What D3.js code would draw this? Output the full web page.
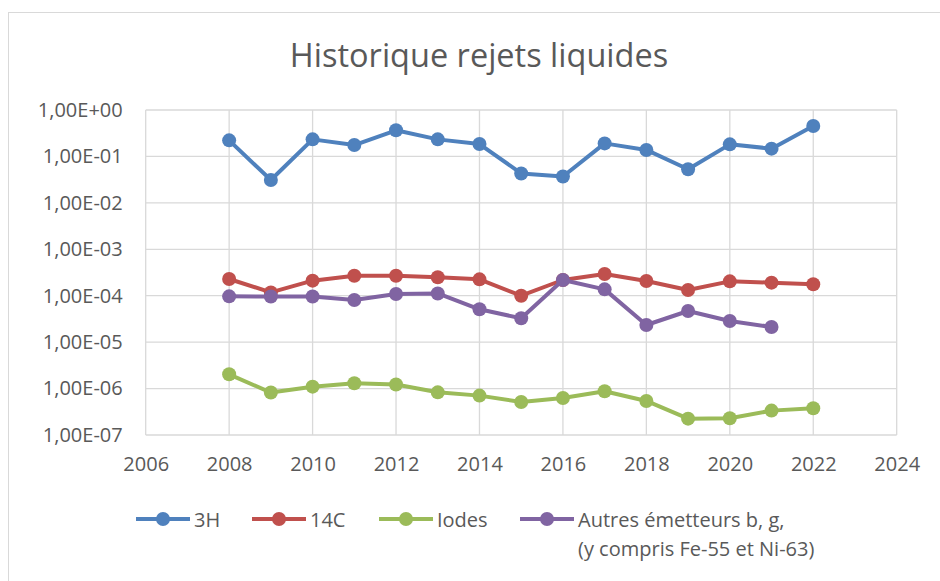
<!DOCTYPE html>
<html>
<head>
<meta charset="utf-8">
<script src="https://cdn.jsdelivr.net/npm/d3@7"></script>
<style>
  body { margin: 0; background: #fff; }
  svg text { font-family: "Open Sans", sans-serif; fill: #595959; }
</style>
</head>
<body>
<svg id="chart"></svg>
<script>
// Data
var years = [2008, 2009, 2010, 2011, 2012, 2013, 2014, 2015, 2016, 2017, 2018, 2019, 2020, 2021, 2022];
var h3 = [0.222, 0.031, 0.233, 0.176, 0.365, 0.233, 0.185, 0.043, 0.037, 0.191, 0.138, 0.053, 0.182, 0.147, 0.452];
var c14 = [2.29e-4, 1.18e-4, 2.11e-4, 2.70e-4, 2.70e-4, 2.49e-4, 2.25e-4, 1.0e-4, 2.18e-4, 2.94e-4, 2.07e-4, 1.33e-4, 2.04e-4, 1.91e-4, 1.76e-4];
var iodes = [2.03e-6, 8.2e-7, 1.10e-6, 1.30e-6, 1.22e-6, 8.3e-7, 7.05e-7, 5.15e-7, 6.28e-7, 8.73e-7, 5.41e-7, 2.25e-7, 2.29e-7, 3.35e-7, 3.76e-7];
var autres = [9.7e-5, 9.6e-5, 9.6e-5, 8.1e-5, 1.09e-4, 1.12e-4, 5.1e-5, 3.26e-5, 2.18e-4, 1.37e-4, 2.34e-5, 4.69e-5, 2.86e-5, 2.12e-5];
var xTicks = [2006, 2008, 2010, 2012, 2014, 2016, 2018, 2020, 2022, 2024];
var yTicks = [1, 1e-1, 1e-2, 1e-3, 1e-4, 1e-5, 1e-6, 1e-7];

var series = [
    {name: "3H", values: h3, color: "#4F81BD"},
    {name: "14C", values: c14, color: "#C0504D"},
    {name: "Iodes", values: iodes, color: "#9BBB59"},
    {name: "Autres émetteurs b, g,", name2: "(y compris Fe-55 et Ni-63)", values: autres, color: "#8064A2"}
];

var W = 940, H = 581;
var plot = {left: 145.7, right: 896.7, top: 110, bottom: 435};

var svg = d3.select("#chart").attr("width", W).attr("height", H);

// chart frame (right/bottom edges fall outside the picture)
svg.append("rect")
    .attr("x", 8.5).attr("y", 12.5)
    .attr("width", W + 20).attr("height", H + 20)
    .style("fill", "none").style("stroke", "#d9d9d9").style("stroke-width", 1);

svg.append("text")
    .attr("x", 479).attr("y", 67)
    .attr("text-anchor", "middle")
    .style("font-size", "32.5px")
    .text("Historique rejets liquides");

var x = d3.scaleLinear().domain([2006, 2024]).range([plot.left, plot.right]);
var y = d3.scaleLog().domain([1e-7, 1]).range([plot.bottom, plot.top]);

function sci(v) {
    var e = Math.round(Math.log10(v));
    var s = Math.abs(e) < 10 ? "0" + Math.abs(e) : "" + Math.abs(e);
    return "1,00E" + (e < 0 ? "-" : "+") + s;
}

// gridlines
var grid = svg.append("g");
grid.selectAll("line.h").data(yTicks).enter().append("line")
    .attr("x1", plot.left).attr("x2", plot.right)
    .attr("y1", function(d){ return y(d); }).attr("y2", function(d){ return y(d); })
    .style("stroke", "#d9d9d9").style("stroke-width", 1.3);
grid.selectAll("line.v").data(xTicks).enter().append("line")
    .attr("y1", plot.top).attr("y2", plot.bottom)
    .attr("x1", function(d){ return x(d); }).attr("x2", function(d){ return x(d); })
    .style("stroke", "#d9d9d9").style("stroke-width", 1.3);

// axes (labels only)
var yAxis = svg.append("g")
    .attr("transform", "translate(" + plot.left + ",0)")
    .call(d3.axisLeft(y).tickValues(yTicks).tickFormat(sci).tickSize(0).tickPadding(23));
var xAxis = svg.append("g")
    .attr("transform", "translate(0," + plot.bottom + ")")
    .call(d3.axisBottom(x).tickValues(xTicks).tickFormat(d3.format("d")).tickSize(0).tickPadding(22));
[yAxis, xAxis].forEach(function(a){
    a.select(".domain").remove();
    a.selectAll("text").style("font-size", "20px").style("fill", "#595959")
        .style("font-family", "'Open Sans', sans-serif");
});

// series
var line = d3.line()
    .x(function(d){ return x(d[0]); })
    .y(function(d){ return y(d[1]); });

series.forEach(function(s){
    var pts = s.values.map(function(v, i){ return [years[i], v]; });
    var g = svg.append("g");
    g.append("path")
        .datum(pts)
        .attr("d", line)
        .style("fill", "none")
        .style("stroke", s.color)
        .style("stroke-width", 4)
        .style("stroke-linejoin", "round");
    g.selectAll("circle").data(pts).enter().append("circle")
        .attr("cx", function(d){ return x(d[0]); })
        .attr("cy", function(d){ return y(d[1]); })
        .attr("r", 7)
        .style("fill", s.color);
});

// legend
var legendX = [136, 252, 379, 520];
var legendY = 519;
series.forEach(function(s, i){
    var g = svg.append("g").attr("transform", "translate(" + legendX[i] + "," + legendY + ")");
    g.append("line").attr("x1", 0).attr("x2", 54).attr("y1", 0).attr("y2", 0)
        .style("stroke", s.color).style("stroke-width", 4);
    g.append("circle").attr("cx", 27).attr("cy", 0).attr("r", 7).style("fill", s.color);
    g.append("text").attr("x", 58).attr("y", 7.5).style("font-size", "20px").text(s.name);
    if (s.name2) {
        g.append("text").attr("x", 58).attr("y", 36.5).style("font-size", "20px").text(s.name2);
    }
});
</script>
</body>
</html>
